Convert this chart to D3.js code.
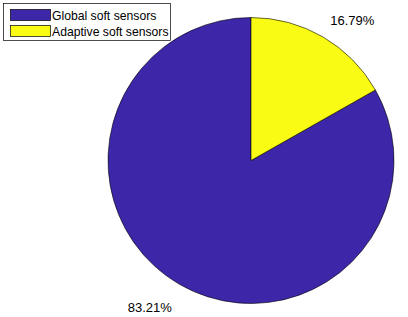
<!DOCTYPE html>
<html>
<head>
<meta charset="utf-8">
<script src="https://cdn.jsdelivr.net/npm/d3@7"></script>
<style>
  body { margin: 0; background: #fff; }
  text { font-family: "Liberation Sans", Arial, sans-serif; font-size: 13px; fill: #000; }
  .item text { font-size: 12.2px; }
</style>
</head>
<body>
<svg id="chart"></svg>
<script>
// categories and their shares (percent)
var categories = ["Global soft sensors", "Adaptive soft sensors"];
var shares = [83.21, 16.79];
var labels = ["83.21%", "16.79%"];
var colors = ["#3e26a8", "#f9fb15"];

var screen = {width: 408, height: 317};
var center = {x: 251, y: 160.5};
var radius = 143;

var svg = d3.select("#chart")
    .attr("width", screen.width)
    .attr("height", screen.height);

// matlab style pie: starts at top, goes counter clockwise
var pie = d3.pie()
    .sort(null)
    .startAngle(0)
    .endAngle(-2 * Math.PI);

var arc = d3.arc()
    .innerRadius(0)
    .outerRadius(radius);

var arcs = pie(shares);

var g = svg.append("g")
    .attr("transform", "translate(" + center.x + "," + center.y + ")");

g.selectAll("path")
    .data(arcs)
    .enter()
    .append("path")
    .attr("d", arc)
    .attr("fill", function(d, i) { return colors[i]; })
    .attr("stroke", "#000")
    .attr("stroke-width", 0.6);

// labels at 1.1 * radius, aligned away from the pie
g.selectAll("text.pct")
    .data(arcs)
    .enter()
    .append("text")
    .attr("class", "pct")
    .each(function(d, i) {
        var a = (d.startAngle + d.endAngle) / 2;
        var x = Math.sin(a) * radius * 1.1;
        var y = -Math.cos(a) * radius * 1.1 + 3.5;
        d3.select(this)
            .attr("x", x)
            .attr("y", y)
            .attr("text-anchor", x >= 0 ? "start" : "end")
            .attr("dominant-baseline", y <= 0 ? "text-after-edge" : "text-before-edge")
            .text(labels[i]);
    });

// legend
var legend = svg.append("g");
legend.append("rect")
    .attr("x", 3.5).attr("y", 3.5)
    .attr("width", 167).attr("height", 37)
    .attr("fill", "#fff")
    .attr("stroke", "#000")
    .attr("stroke-width", 0.7);

var items = legend.selectAll("g.item")
    .data(categories)
    .enter()
    .append("g")
    .attr("class", "item")
    .attr("transform", function(d, i) { return "translate(0," + (i * 16) + ")"; });

items.append("rect")
    .attr("x", 10.5).attr("y", 9.5)
    .attr("width", 40).attr("height", 11)
    .attr("fill", function(d, i) { return colors[i]; })
    .attr("stroke", "#000")
    .attr("stroke-width", 0.7);

items.append("text")
    .attr("x", 52)
    .attr("y", 19.5)
    .text(function(d) { return d; });
</script>
</body>
</html>
